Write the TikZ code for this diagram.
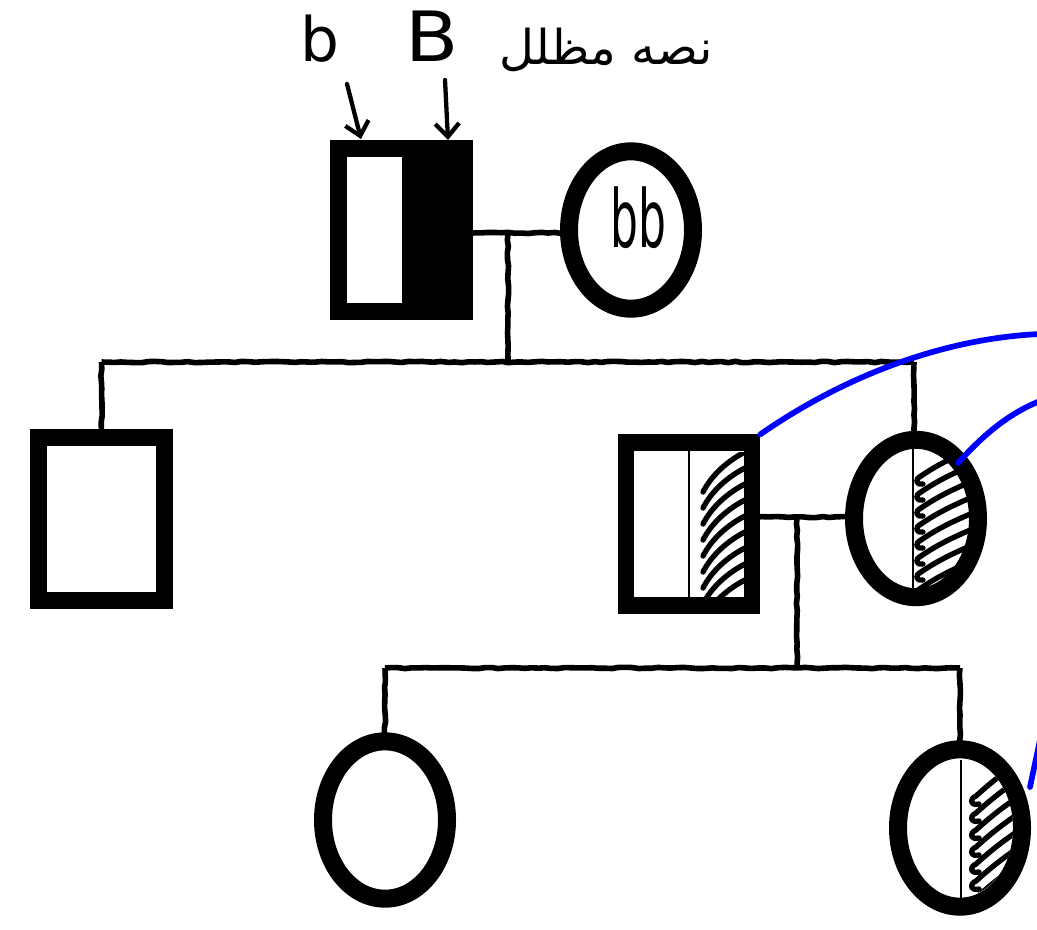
\documentclass[tikz,border=0pt]{standalone}
\usepackage{fontspec}
\usetikzlibrary{shapes.geometric,arrows.meta,decorations.pathmorphing}
\newfontfamily\arabicfont[Script=Arabic]{DejaVu Sans}
\newfontfamily\handfont{DejaVu Sans}
\TeXXeTstate=1
\definecolor{penblue}{RGB}{0,0,255}

\begin{document}
\begin{tikzpicture}[x=0.75pt,y=-0.75pt,
  male/.style={rectangle, draw=black, fill=white, line width=12.5pt, inner sep=0pt,
    minimum width=94.5pt, minimum height=122pt},
  female/.style={ellipse, draw=black, fill=white, line width=13.5pt, inner sep=0pt,
    minimum width=93pt, minimum height=118pt},
  halfblack/.style={path picture={\fill[black] (path picture bounding box.north) rectangle (path picture bounding box.south east);}},
  line/.style={draw=black, line width=4.2pt, decorate,
    decoration={random steps, segment length=5pt, amplitude=0.5pt}},
  divider/.style={draw=black, line width=2.2pt},
  hatch/.style={draw=black, line width=4pt, line cap=round, line join=round},
  pen/.style={draw=penblue, line width=4.3pt, line cap=round},
  pointer/.style={draw=black, line width=3.2pt, line cap=round,
    -{Straight Barb[length=10pt, width=18pt, line width=3.2pt]}},
  hand/.style={inner sep=0pt, text=black}
]
\useasboundingbox (0,0) rectangle (1037,929);
\pgfmathsetseed{7}

% fixed points of the connecting lines
\coordinate (m1) at (508,233);
\coordinate (s1) at (508,362);
\coordinate (m2) at (797,517);
\coordinate (s2) at (797,668);

% connectors, drawn first so the symbols sit on top
\draw[line] (401.5,233) -- (631,233);
\draw[line] (m1) -- (s1);
\draw[line] (101.5,362) -- (914,362);
\draw[line] (101.5,362) -- (101.5,440);
\draw[line] (914,362) -- (914,440);
\draw[line] (689,517) -- (916,517);
\draw[line] (m2) -- (s2);
\draw[line] (385,668) -- (960,668);
\draw[line] (385,668) -- (385,750);
\draw[line] (960,668) -- (960,750);

% generation I
\node[male, halfblack] (father) at (401.5,230) {};
\node[female] (mother) at (631,230) {};
\node[hand, font=\handfont\fontsize{60}{64}\selectfont] (bb) at (638,218) {\scalebox{0.55}[1]{bb}};

% generation II
\node[male] (son1) at (101.5,519) {};
\node[male] (son2) at (689,524) {};
\node[female] (dau) at (916,518.5) {};

% generation III
\node[female] (gd1) at (385,820) {};
\node[female] (gd2) at (960,828) {};

% half-shaded carrier symbols
\draw[divider] (son2.north) -- (son2.south);
\begin{scope}
  \clip (690,452) rectangle (746,596);
  \foreach \k in {0,...,8} {
    \draw[hatch] (703,492+16*\k) .. controls (711,476+16*\k) and (727,461+16*\k) .. (745,452+16*\k);
  }
\end{scope}

\draw[divider] (913,448) -- (913,590);
\begin{scope}
  \clip (dau.center) ellipse (55 and 71);
  \clip (914,430) rectangle (1000,610);
  \foreach \k in {0,...,7} {
    \draw[hatch] (923,484+16*\k) .. controls (915,485+16*\k) and (915,479+16*\k) .. (921,476+16*\k)
      .. controls (937,465+16*\k) and (955,456+16*\k) .. (980,446+16*\k);
  }
\end{scope}

\draw[divider] (961,760) -- (961,898);
\begin{scope}
  \clip (gd2.center) ellipse (53 and 69);
  \clip (962,740) rectangle (1037,915);
  \foreach \k in {0,...,6} {
    \draw[hatch] (979,804+17*\k) .. controls (970,806+17*\k) and (969,799+17*\k) .. (976,796+17*\k)
      .. controls (987,786+17*\k) and (1001,774+17*\k) .. (1021,761+17*\k);
  }
\end{scope}

% handwritten labels above the father
\node[hand, font=\handfont\fontsize{46}{50}\selectfont, anchor=base] (lb) at (320,61) {b};
\node[hand, font=\handfont\fontsize{52}{56}\selectfont, anchor=base] (lB) at (432,61) {\scalebox{1.12}[1]{B}};
\node[hand, font=\arabicfont\fontsize{36}{44}\selectfont, anchor=base] (note) at (606,64) {\beginR نصه مظلل\endR};

\coordinate (tb0) at (347,84);
\coordinate (tb1) at (361,139);
\coordinate (tB0) at (445,80);
\coordinate (tB1) at (448,140);
\draw[pointer] (tb0) -- (tb1);
\draw[pointer] (tB0) -- (tB1);

% blue pen strokes running off to the right
\coordinate (e1) at (1040,334);
\coordinate (e2) at (1040,401);
\coordinate (b3) at (1030,787);
\coordinate (e3) at (1040,740);
\draw[pen] (son2.north east) .. controls (850,372) and (950,338) .. (e1);
\draw[pen] (958,463) .. controls (985,433) and (1010,413) .. (e2);
\draw[pen] (b3) -- (e3);
\end{tikzpicture}
\end{document}
